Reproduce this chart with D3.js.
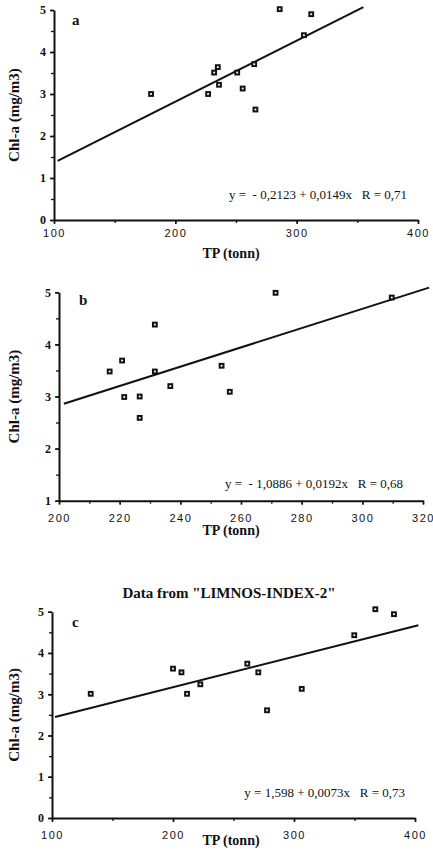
<!DOCTYPE html>
<html>
<head>
<meta charset="utf-8">
<script src="https://cdn.jsdelivr.net/npm/d3@7"></script>
<style>
  body { margin: 0; background: #fff; }
  svg text { font-family: "Liberation Serif", "DejaVu Serif", serif; fill: #111; }
  .xtick text { font-family: "Liberation Sans", Arial, sans-serif; font-size: 11px; letter-spacing: 1.5px; }
  .ytick text { font-size: 12px; font-weight: bold; }
</style>
</head>
<body>
<div id="chart"></div>
<script>
// panel a
const aTP = [180, 227, 232, 235, 236, 251, 255.5, 265, 266, 286, 306, 312];
const aChl = [3.0, 3.0, 3.51, 3.64, 3.22, 3.51, 3.13, 3.71, 2.63, 5.02, 4.40, 4.90];
const aFit = [[103, 1.41], [355, 5.07]];
const aXTicks = [100, 200, 300, 400];
const aYTicks = [0, 1, 2, 3, 4, 5];
const aEq = "y =  - 0,2123 + 0,0149x   R = 0,71";

// panel b
const bTP = [216.7, 220.8, 221.5, 226.6, 226.6, 231.6, 231.6, 236.7, 253.6, 256.3, 271.4, 309.7];
const bChl = [3.48, 3.69, 2.99, 3.0, 2.59, 4.38, 3.48, 3.2, 3.59, 3.09, 4.99, 4.9];
const bFit = [[201.6, 2.86], [322, 5.09]];
const bXTicks = [200, 220, 240, 260, 280, 300, 320];
const bYTicks = [1, 2, 3, 4, 5];
const bEq = "y =  - 1,0886 + 0,0192x   R = 0,68";

// panel c
const cTP = [132, 200, 207, 211.6, 222.6, 261.4, 270.5, 277.7, 306.4, 349.8, 367.2, 382.6];
const cChl = [3.01, 3.62, 3.53, 3.01, 3.24, 3.74, 3.53, 2.61, 3.13, 4.43, 5.06, 4.94];
const cFit = [[102.5, 2.45], [402.8, 4.67]];
const cXTicks = [100, 200, 300, 400];
const cYTicks = [0, 1, 2, 3, 4, 5];
const cEq = "y = 1,598 + 0,0073x   R = 0,73";
const cTitle = 'Data from "LIMNOS-INDEX-2"';

const width = 433, height = 851;

const svg = d3.select("#chart")
    .append("svg")
    .attr("width", width)
    .attr("height", height);

function drawPanel(p) {
    const x = d3.scaleLinear().domain(p.xDomain).range(p.xRange);
    const y = d3.scaleLinear().domain(p.yDomain).range(p.yRange);
    const g = svg.append("g");

    // minor ticks first
    const xMinor = d3.range(p.xDomain[0], p.xDomain[1] + 0.001, p.xMinorStep);
    const yMinor = d3.range(p.yDomain[0], p.yDomain[1] + 0.001, 0.5);
    g.append("g")
        .attr("transform", `translate(0,${p.yRange[0]})`)
        .call(d3.axisBottom(x).tickValues(xMinor).tickSize(3).tickFormat(""))
        .call(s => s.select(".domain").remove())
        .selectAll("line").attr("stroke", "#111").attr("stroke-width", 1.3);
    g.append("g")
        .attr("transform", `translate(${p.xRange[0]},0)`)
        .call(d3.axisLeft(y).tickValues(yMinor).tickSize(3).tickFormat(""))
        .call(s => s.select(".domain").remove())
        .selectAll("line").attr("stroke", "#111").attr("stroke-width", 1.3);

    // major axes
    const xa = g.append("g")
        .attr("class", "xtick")
        .attr("transform", `translate(0,${p.yRange[0]})`)
        .call(d3.axisBottom(x).tickValues(p.xTicks).tickSize(4).tickSizeOuter(0)
            .tickPadding(p.xPad).tickFormat(d3.format("d")));
    xa.select(".domain").attr("stroke", "#111").attr("stroke-width", 2);
    xa.selectAll("line").attr("stroke", "#111").attr("stroke-width", 1.6);

    const ya = g.append("g")
        .attr("class", "ytick")
        .attr("transform", `translate(${p.xRange[0]},0)`)
        .call(d3.axisLeft(y).tickValues(p.yTicks).tickSize(4).tickSizeOuter(0)
            .tickPadding(4).tickFormat(d3.format("d")));
    ya.select(".domain").attr("stroke", "#111").attr("stroke-width", 2);
    ya.selectAll("line").attr("stroke", "#111").attr("stroke-width", 1.6);

    // regression line
    g.append("path")
        .datum(p.fit)
        .attr("d", d3.line().x(d => x(d[0])).y(d => y(d[1])))
        .attr("fill", "none")
        .attr("stroke", "#111")
        .attr("stroke-width", 2);

    // points: dark squares with a small light centre
    const pts = p.tp.map((v, i) => ({ tp: v, chl: p.chl[i] }));
    g.selectAll("rect.pt")
        .data(pts)
        .join("rect")
        .attr("class", "pt")
        .attr("x", d => x(d.tp) - 1.9)
        .attr("y", d => y(d.chl) - 1.9)
        .attr("width", 3.8)
        .attr("height", 3.8)
        .attr("fill", "#fff")
        .attr("stroke", "#111")
        .attr("stroke-width", 2);

    // panel letter
    g.append("text")
        .attr("x", p.xRange[0] + p.letterDx)
        .attr("y", p.yRange[1] + p.letterDy)
        .style("font-size", "15px")
        .style("font-weight", "bold")
        .text(p.letter);

    // equation
    g.append("text")
        .attr("x", p.eqX)
        .attr("y", p.eqY)
        .attr("text-anchor", "end")
        .style("font-size", "13px")
        .style("white-space", "pre")
        .text(p.eq);

    // axis titles
    g.append("text")
        .attr("x", p.xLabelX)
        .attr("y", p.xLabelY)
        .attr("text-anchor", "middle")
        .style("font-size", "14px")
        .style("font-weight", "bold")
        .text("TP (tonn)");

    g.append("text")
        .attr("transform", `translate(19,${(p.yRange[0] + p.yRange[1]) / 2}) rotate(-90)`)
        .attr("text-anchor", "middle")
        .style("font-size", "15px")
        .style("font-weight", "bold")
        .text("Chl-a (mg/m3)");
}

drawPanel({
    tp: aTP, chl: aChl, fit: aFit, xTicks: aXTicks, yTicks: aYTicks, eq: aEq,
    xDomain: [100, 400], yDomain: [0, 5], xRange: [54, 418], yRange: [220, 10],
    xMinorStep: 50, xPad: 5, letter: "a", letterDx: 18, letterDy: 15,
    eqX: 407, eqY: 199, xLabelX: 231, xLabelY: 258
});

drawPanel({
    tp: bTP, chl: bChl, fit: bFit, xTicks: bXTicks, yTicks: bYTicks, eq: bEq,
    xDomain: [200, 320], yDomain: [1, 5], xRange: [59, 423], yRange: [500.7, 292.3],
    xMinorStep: 10, xPad: 10, letter: "b", letterDx: 20, letterDy: 13,
    eqX: 403, eqY: 488, xLabelX: 231, xLabelY: 535
});

svg.append("text")
    .attr("x", 229)
    .attr("y", 598)
    .attr("text-anchor", "middle")
    .style("font-size", "15px")
    .style("font-weight", "bold")
    .text(cTitle);

drawPanel({
    tp: cTP, chl: cChl, fit: cFit, xTicks: cXTicks, yTicks: cYTicks, eq: cEq,
    xDomain: [100, 400], yDomain: [0, 5], xRange: [52, 415], yRange: [818, 611.7],
    xMinorStep: 50, xPad: 9, letter: "c", letterDx: 20, letterDy: 15,
    eqX: 405, eqY: 797, xLabelX: 231, xLabelY: 845
});
</script>
</body>
</html>
